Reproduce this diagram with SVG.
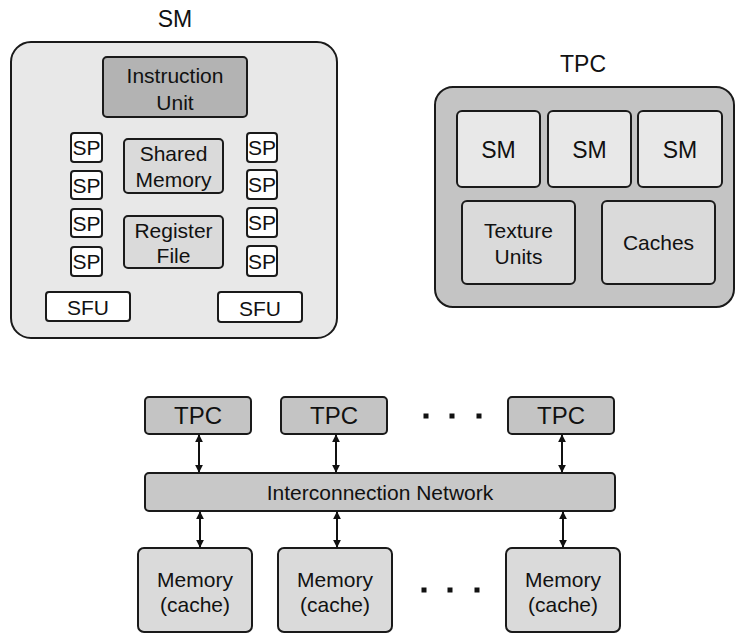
<svg xmlns="http://www.w3.org/2000/svg" width="736" height="633" viewBox="0 0 736 633">
<defs>
<marker id="ah" viewBox="0 0 10 10" refX="9" refY="5" markerWidth="8" markerHeight="8" markerUnits="userSpaceOnUse" orient="auto-start-reverse">
<path d="M0,0 L10,5 L0,10 Z" fill="#111"/>
</marker>
</defs>
<style>
rect{stroke:#1a1a1a;stroke-width:2}
text{font-family:"Liberation Sans",Arial,sans-serif;font-size:21px;fill:#111;text-anchor:middle}
.big{font-size:24px}
.title{font-size:23px}
.sp{font-size:21px}
.smb{font-size:23px}
.dark{fill:#b3b3b3}
.mid{fill:#c4c4c4}
.light{fill:#dadada}
.pale{fill:#e8e8e8}
.white{fill:#ffffff}
.dot{fill:#111;stroke:none}
.conn line{stroke:#111;stroke-width:2;marker-start:url(#ah);marker-end:url(#ah)}
</style>
<rect width="736" height="633" fill="#ffffff" style="stroke:none"/>

<g id="sm-detail">
<text x="175" y="27" class="title">SM</text>
<rect x="11" y="42" width="326" height="296" rx="20" class="pale"/>
<g id="instruction-unit"><rect x="103" y="57" width="144" height="60" rx="4" class="dark"/><text x="175" y="83">Instruction</text><text x="175" y="110">Unit</text></g>
<g id="shared-memory"><rect x="124" y="139" width="99" height="54" rx="4" class="light"/><text x="173.5" y="161">Shared</text><text x="173.5" y="187">Memory</text></g>
<g id="register-file"><rect x="124" y="216" width="99" height="52" rx="4" class="light"/><text x="173.5" y="238">Register</text><text x="173.5" y="263">File</text></g>
<g id="sp-l1"><rect x="71" y="133" width="31" height="29" rx="3" class="white"/><text x="86.5" y="155" class="sp">SP</text></g>
<g id="sp-l2"><rect x="71" y="171" width="31" height="28" rx="3" class="white"/><text x="86.5" y="193" class="sp">SP</text></g>
<g id="sp-l3"><rect x="71" y="209" width="31" height="28" rx="3" class="white"/><text x="86.5" y="231" class="sp">SP</text></g>
<g id="sp-l4"><rect x="71" y="247" width="31" height="29" rx="3" class="white"/><text x="86.5" y="269" class="sp">SP</text></g>
<g id="sp-r1"><rect x="247" y="133" width="30" height="29" rx="3" class="white"/><text x="262" y="155" class="sp">SP</text></g>
<g id="sp-r2"><rect x="247" y="170" width="30" height="29" rx="3" class="white"/><text x="262" y="192" class="sp">SP</text></g>
<g id="sp-r3"><rect x="247" y="208" width="30" height="29" rx="3" class="white"/><text x="262" y="230" class="sp">SP</text></g>
<g id="sp-r4"><rect x="247" y="246" width="30" height="30" rx="3" class="white"/><text x="262" y="269" class="sp">SP</text></g>
<g id="sfu-l"><rect x="46" y="292" width="84" height="29" rx="3" class="white"/><text x="88" y="315">SFU</text></g>
<g id="sfu-r"><rect x="218" y="292" width="84" height="30" rx="3" class="white"/><text x="260" y="316">SFU</text></g>
</g>

<g id="tpc-detail">
<text x="583" y="72" class="title">TPC</text>
<rect x="435" y="87" width="299" height="220" rx="18" class="mid"/>
<g id="tpc-sm1"><rect x="457" y="111" width="83" height="76" rx="5" class="pale"/><text x="498.5" y="158" class="smb">SM</text></g>
<g id="tpc-sm2"><rect x="548" y="111" width="83" height="76" rx="5" class="pale"/><text x="589.5" y="158" class="smb">SM</text></g>
<g id="tpc-sm3"><rect x="638" y="111" width="84" height="76" rx="5" class="pale"/><text x="680" y="158" class="smb">SM</text></g>
<g id="texture-units"><rect x="462" y="201" width="113" height="83" rx="5" class="light"/><text x="518.5" y="238">Texture</text><text x="518.5" y="264">Units</text></g>
<g id="caches"><rect x="602" y="201" width="113" height="83" rx="5" class="light"/><text x="658.5" y="250">Caches</text></g>
</g>

<g id="tpc1"><rect x="145" y="397" width="106" height="37" rx="4" class="mid"/><text x="198" y="424" class="big">TPC</text></g>
<g id="tpc2"><rect x="281" y="397" width="106" height="37" rx="4" class="mid"/><text x="334" y="424" class="big">TPC</text></g>
<g id="tpc3"><rect x="508" y="397" width="106" height="37" rx="4" class="mid"/><text x="561" y="424" class="big">TPC</text></g>
<g id="dots-top"><rect x="423.5" y="413.5" width="5" height="5" class="dot"/><rect x="449.5" y="413.5" width="5" height="5" class="dot"/><rect x="476.5" y="413.5" width="5" height="5" class="dot"/></g>
<g id="interconnect"><rect x="145" y="473" width="470" height="38" rx="4" style="fill:#c8c8c8"/><text x="380" y="500">Interconnection Network</text></g>
<g id="mem1"><rect x="138" y="548" width="114" height="84" rx="6" class="light"/><text x="195" y="587">Memory</text><text x="195" y="612">(cache)</text></g>
<g id="mem2"><rect x="278" y="548" width="114" height="84" rx="6" class="light"/><text x="335" y="587">Memory</text><text x="335" y="612">(cache)</text></g>
<g id="mem3"><rect x="506" y="548" width="114" height="84" rx="6" class="light"/><text x="563" y="587">Memory</text><text x="563" y="612">(cache)</text></g>
<g id="dots-bottom"><rect x="421.5" y="587.5" width="5" height="5" class="dot"/><rect x="447.5" y="587.5" width="5" height="5" class="dot"/><rect x="474.5" y="587.5" width="5" height="5" class="dot"/></g>

<g id="connectors" class="conn">
<line x1="199" y1="435" x2="199" y2="472"/>
<line x1="336" y1="435" x2="336" y2="472"/>
<line x1="562" y1="435" x2="562" y2="472"/>
<line x1="200" y1="512" x2="200" y2="547"/>
<line x1="337" y1="512" x2="337" y2="547"/>
<line x1="563" y1="512" x2="563" y2="547"/>
</g>
</svg>
